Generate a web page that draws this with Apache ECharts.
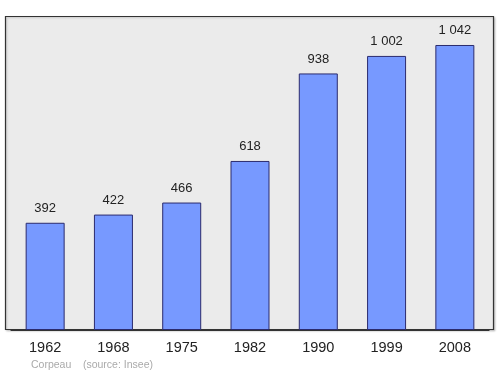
<!DOCTYPE html>
<html><head><meta charset="utf-8">
<script src="https://cdn.jsdelivr.net/npm/echarts@6/dist/echarts.min.js"></script>
<style>html,body{margin:0;padding:0;background:#fff}#c{width:500px;height:374px}</style>
</head><body><div id="c"></div>
<script>
const years = ['1962','1968','1975','1982','1990','1999','2008'];
const population = [392, 422, 466, 618, 938, 1002, 1042];
const sourceText = 'Corpeau    (source: Insee)';

function fmt(v){ return String(v).replace(/\B(?=(\d{3})+(?!\d))/g, '\u00a0'); }

const FONT = '"Liberation Sans", Arial, sans-serif';
const chart = echarts.init(document.getElementById('c'), null, {renderer:'canvas'});
chart.setOption({
  animation: false,
  backgroundColor: '#ffffff',
  graphic: [
    { type: 'rect', z: -10, shape: { x: 5.5, y: 16.5, width: 488, height: 313 },
      style: { fill: '#ebebeb', stroke: '#333', lineWidth: 1.2,
               shadowColor: 'rgba(0,0,0,0.2)', shadowBlur: 2, shadowOffsetX: 1, shadowOffsetY: 1 } },
    { type: 'text', left: 31, top: 360, style: { text: sourceText, fill: '#aaaaaa', font: '10.5px ' + FONT } }
  ],
  grid: { left: 11, width: 478, top: 16, height: 314, containLabel: false },
  xAxis: {
    type: 'category', data: years,
    axisLine: { show: true, lineStyle: { color: '#333', width: 1.2 } },
    axisTick: { show: false },
    axisLabel: { color: '#222', fontSize: 14.5, margin: 10, fontFamily: FONT }
  },
  yAxis: { type: 'value', min: 0, max: 1148, show: false, splitLine: { show: false } },
  series: [{
    type: 'bar', data: population, barWidth: 39,
    itemStyle: { color: '#7799ff', borderColor: '#2b2b6e', borderWidth: 1 },
    label: { show: true, position: 'top', distance: 8, color: '#222', fontSize: 13,
             fontFamily: FONT, formatter: p => fmt(p.value) }
  }]
});
</script></body></html>
